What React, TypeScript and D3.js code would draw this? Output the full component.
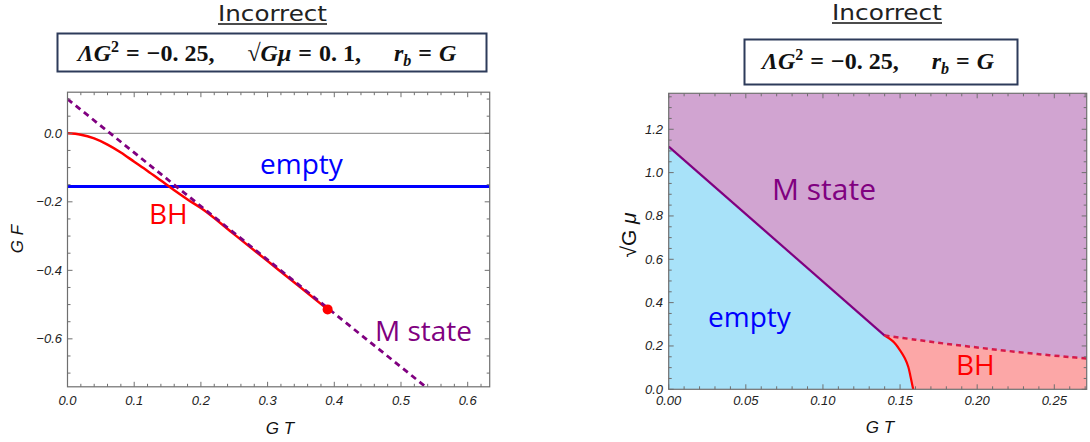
import React from "react";
import * as d3 from "d3";

// ---------- Left panel data ----------
const bhT = [0, 0.02, 0.04, 0.06, 0.08, 0.1, 0.12, 0.14, 0.16, 0.18, 0.2, 0.25, 0.3, 0.35, 0.39];
const bhF = [0, -0.004, -0.015, -0.033, -0.056, -0.083, -0.11, -0.138, -0.166, -0.193, -0.218, -0.295, -0.373, -0.451, -0.514];
const mStateT = [0, 0.537];
const mStateF = [0.1, -0.74];
const emptyF = -0.155;
const bhEnd = [0.39, -0.514];
const leftXTicks = [0, 0.1, 0.2, 0.3, 0.4, 0.5, 0.6];
const leftYTicks = [0, -0.2, -0.4, -0.6];

// ---------- Right panel data ----------
const mLineT = [0, 0.14];
const mLineMu = [1.12, 0.248];
const bhSolidT = [0.14, 0.1456, 0.15, 0.1531, 0.1553, 0.1568, 0.1585];
const bhSolidMu = [0.248, 0.22, 0.18, 0.143, 0.104, 0.058, 0];
const bhDashT = [0.14, 0.16, 0.18, 0.2, 0.22, 0.24, 0.26, 0.271];
const bhDashMu = [0.248, 0.229, 0.21, 0.193, 0.177, 0.162, 0.149, 0.142];
const rightXTicks = [0, 0.05, 0.1, 0.15, 0.2, 0.25];
const rightYTicks = [0, 0.2, 0.4, 0.6, 0.8, 1.0, 1.2];

const LEFT = { x0: 67.5, x1: 489.7, y0: 92.2, y1: 386.8, xd: [0, 0.633], yd: [-0.74, 0.12] };
const RIGHT = { x0: 668.7, x1: 1086.7, y0: 93.3, y1: 389.3, xd: [0, 0.271], yd: [0, 1.366] };

const frameColor = "#6f6f6f";
const tickFont = "Liberation Sans, Arial, sans-serif";
const labelFont = "Open Sans, Noto Sans, sans-serif";
const titleFont = "DejaVu Sans, sans-serif";
const mathFont = "Liberation Serif, DejaVu Serif, serif";

function zip(a: number[], b: number[]): [number, number][] {
  return a.map((v, i) => [v, b[i]]);
}

function Ticks({ x, y, xMajor, xMinor, yMajor, yMinor, box }: any) {
  const els: any[] = [];
  const maj = 5, min = 3;
  xMinor.forEach((t: number, i: number) => {
    const isMaj = xMajor.some((m: number) => Math.abs(m - t) < 1e-9);
    const L = isMaj ? maj : min;
    const px = x(t);
    els.push(<line key={"xb" + i} x1={px} x2={px} y1={box.y1} y2={box.y1 - L} stroke={frameColor} strokeWidth={1} />);
    els.push(<line key={"xt" + i} x1={px} x2={px} y1={box.y0} y2={box.y0 + L} stroke={frameColor} strokeWidth={1} />);
  });
  yMinor.forEach((t: number, i: number) => {
    const isMaj = yMajor.some((m: number) => Math.abs(m - t) < 1e-9);
    const L = isMaj ? maj : min;
    const py = y(t);
    els.push(<line key={"yl" + i} x1={box.x0} x2={box.x0 + L} y1={py} y2={py} stroke={frameColor} strokeWidth={1} />);
    els.push(<line key={"yr" + i} x1={box.x1} x2={box.x1 - L} y1={py} y2={py} stroke={frameColor} strokeWidth={1} />);
  });
  return <g>{els}</g>;
}

function rangeInc(a: number, b: number, s: number) {
  const out: number[] = [];
  const n = Math.round((b - a) / s);
  for (let i = 0; i <= n; i++) out.push(+(a + i * s).toFixed(6));
  return out;
}

export default function App() {
  // Left scales
  const lx = d3.scaleLinear().domain(LEFT.xd).range([LEFT.x0, LEFT.x1]);
  const ly = d3.scaleLinear().domain(LEFT.yd).range([LEFT.y1, LEFT.y0]);
  const lLine = d3.line<[number, number]>().x((d) => lx(d[0])).y((d) => ly(d[1]));
  const bhPath = d3.line<[number, number]>().x((d) => lx(d[0])).y((d) => ly(d[1])).curve(d3.curveMonotoneX)(zip(bhT, bhF)) || "";
  const mPath = lLine(zip(mStateT, mStateF)) || "";

  // Right scales
  const rx = d3.scaleLinear().domain(RIGHT.xd).range([RIGHT.x0, RIGHT.x1]);
  const ry = d3.scaleLinear().domain(RIGHT.yd).range([RIGHT.y1, RIGHT.y0]);
  const rLine = d3.line<[number, number]>().x((d) => rx(d[0])).y((d) => ry(d[1]));
  const rCurve = d3.line<[number, number]>().x((d) => rx(d[0])).y((d) => ry(d[1])).curve(d3.curveCatmullRom);
  const solidPts = zip(bhSolidT, bhSolidMu);
  const dashPts = zip(bhDashT, bhDashMu);
  const solidPath = rCurve(solidPts) || "";
  const solidRevPath = rCurve(solidPts.slice().reverse()) || "";
  const dashPath = rCurve(dashPts) || "";
  const mLinePath = rLine(zip(mLineT, mLineMu)) || "";
  const bluePath =
    `M${rx(0)},${ry(0)}L${rx(mLineT[0])},${ry(mLineMu[0])}` + solidPath.replace(/^M/, "L") + "Z";
  const redPath =
    dashPath + `L${rx(RIGHT.xd[1])},${ry(0)}` + solidRevPath.replace(/^M/, "L") + "Z";

  return (
    <svg width={1090} height={442} style={{ position: "absolute", left: 0, top: 0, background: "#fff" }}>
      <defs>
        <clipPath id="clipL">
          <rect x={LEFT.x0} y={LEFT.y0} width={LEFT.x1 - LEFT.x0} height={LEFT.y1 - LEFT.y0} />
        </clipPath>
        <clipPath id="clipR">
          <rect x={RIGHT.x0} y={RIGHT.y0} width={RIGHT.x1 - RIGHT.x0} height={RIGHT.y1 - RIGHT.y0} />
        </clipPath>
      </defs>

      {/* ---------- Titles ---------- */}
      <text x={218} y={21} textLength={109} lengthAdjust="spacingAndGlyphs" fontFamily={titleFont} fontSize={22} fill="#222">Incorrect</text>
      <line x1={218} x2={327} y1={24} y2={24} stroke="#111" strokeWidth={1.6} />
      <text x={832} y={20} textLength={110} lengthAdjust="spacingAndGlyphs" fontFamily={titleFont} fontSize={22} fill="#222">Incorrect</text>
      <line x1={832} x2={942} y1={23} y2={23} stroke="#111" strokeWidth={1.6} />

      {/* ---------- Parameter boxes ---------- */}
      <rect x={57.5} y={33.5} width={429} height={38} fill="#fff" stroke="#2d3b5a" strokeWidth={2} />
      <text x={267} y={61} textAnchor="middle" fontFamily={mathFont} fontWeight="bold" fontSize={24} fill="#111">
        <tspan fontStyle="italic">ΛG</tspan>
        <tspan dy={-9} fontSize={16}>2</tspan>
        <tspan dy={9} dx={7}>=</tspan>
        <tspan dx={7}>{"−0. 25,"}</tspan>
        <tspan dx={33}>√</tspan>
        <tspan fontStyle="italic">Gμ</tspan>
        <tspan dx={7}>=</tspan>
        <tspan dx={7}>{"0. 1,"}</tspan>
        <tspan dx={33} fontStyle="italic">r</tspan>
        <tspan dy={5} fontSize={16} fontStyle="italic">b</tspan>
        <tspan dy={-5} dx={7}>=</tspan>
        <tspan dx={7} fontStyle="italic">G</tspan>
      </text>

      <rect x={744.5} y={39.5} width={273} height={45} fill="#fff" stroke="#2d3b5a" strokeWidth={2} />
      <text x={878} y={69} textAnchor="middle" fontFamily={mathFont} fontWeight="bold" fontSize={24} fill="#111">
        <tspan fontStyle="italic">ΛG</tspan>
        <tspan dy={-9} fontSize={16}>2</tspan>
        <tspan dy={9} dx={7}>=</tspan>
        <tspan dx={7}>{"−0. 25,"}</tspan>
        <tspan dx={33} fontStyle="italic">r</tspan>
        <tspan dy={5} fontSize={16} fontStyle="italic">b</tspan>
        <tspan dy={-5} dx={7}>=</tspan>
        <tspan dx={7} fontStyle="italic">G</tspan>
      </text>

      {/* ---------- Left panel ---------- */}
      <g clipPath="url(#clipL)">
        <line x1={lx(LEFT.xd[0])} x2={lx(LEFT.xd[1])} y1={ly(0)} y2={ly(0)} stroke="#9a9a9a" strokeWidth={1.2} />
        <line x1={lx(LEFT.xd[0])} x2={lx(LEFT.xd[1])} y1={ly(emptyF)} y2={ly(emptyF)} stroke="#0000ff" strokeWidth={3} />
        <path d={bhPath} fill="none" stroke="#ff0000" strokeWidth={2.5} />
        <path d={mPath} fill="none" stroke="#800080" strokeWidth={2.8} strokeDasharray="6,4.5" />
        <circle cx={lx(bhEnd[0])} cy={ly(bhEnd[1])} r={5} fill="#ff0000" />
      </g>
      <rect x={LEFT.x0} y={LEFT.y0} width={LEFT.x1 - LEFT.x0} height={LEFT.y1 - LEFT.y0} fill="none" stroke={frameColor} strokeWidth={1.2} />
      <Ticks x={lx} y={ly} xMajor={leftXTicks} xMinor={rangeInc(0, 0.62, 0.02)} yMajor={leftYTicks} yMinor={rangeInc(-0.7, 0.1, 0.05)} box={LEFT} />
      {leftXTicks.map((t) => (
        <text key={"lxt" + t} x={lx(t)} y={405} textAnchor="middle" fontFamily={tickFont} fontStyle="italic" fontSize={13} fill="#222">
          {t.toFixed(1)}
        </text>
      ))}
      {leftYTicks.map((t) => (
        <text key={"lyt" + t} x={62} y={ly(t) + 4.5} textAnchor="end" fontFamily={tickFont} fontStyle="italic" fontSize={13} fill="#222">
          {t === 0 ? "0.0" : "−" + Math.abs(t).toFixed(1)}
        </text>
      ))}
      <text x={280} y={434} textAnchor="middle" fontFamily={tickFont} fontStyle="italic" fontSize={17} fill="#111">G T</text>
      <text transform="translate(23,239) rotate(-90)" textAnchor="middle" fontFamily={tickFont} fontStyle="italic" fontSize={17} fill="#111">G F</text>
      <text x={260} y={174} fontFamily={labelFont} fontSize={28} fill="#0000ff">empty</text>
      <text x={149} y={224} fontFamily={labelFont} fontSize={28} fill="#ff0000">BH</text>
      <text x={375} y={341} fontFamily={labelFont} fontSize={28} fill="#800080">M state</text>

      {/* ---------- Right panel ---------- */}
      <g clipPath="url(#clipR)">
        <rect x={RIGHT.x0} y={RIGHT.y0} width={RIGHT.x1 - RIGHT.x0} height={RIGHT.y1 - RIGHT.y0} fill="#d1a4d1" />
        <path d={bluePath} fill="#a8e2f9" />
        <path d={redPath} fill="#fca7a7" />
        <path d={mLinePath} fill="none" stroke="#800080" strokeWidth={2.2} />
        <path d={solidPath} fill="none" stroke="#ff0000" strokeWidth={2.2} />
        <path d={dashPath} fill="none" stroke="#d61a4a" strokeWidth={2.5} strokeDasharray="5,4" />
      </g>
      <rect x={RIGHT.x0} y={RIGHT.y0} width={RIGHT.x1 - RIGHT.x0} height={RIGHT.y1 - RIGHT.y0} fill="none" stroke={frameColor} strokeWidth={1.2} />
      <Ticks x={rx} y={ry} xMajor={rightXTicks} xMinor={rangeInc(0, 0.27, 0.01)} yMajor={rightYTicks} yMinor={rangeInc(0, 1.35, 0.05)} box={RIGHT} />
      {rightXTicks.map((t) => (
        <text key={"rxt" + t} x={rx(t)} y={405} textAnchor="middle" fontFamily={tickFont} fontStyle="italic" fontSize={13} fill="#222">
          {t.toFixed(2)}
        </text>
      ))}
      {rightYTicks.map((t) => (
        <text key={"ryt" + t} x={663} y={ry(t) + 4.5} textAnchor="end" fontFamily={tickFont} fontStyle="italic" fontSize={13} fill="#222">
          {t.toFixed(1)}
        </text>
      ))}
      <text x={880} y={433} textAnchor="middle" fontFamily={tickFont} fontStyle="italic" fontSize={17} fill="#111">G T</text>
      <g transform="translate(636,235) rotate(-90)">
        <text x={0} y={0} textAnchor="middle" fontFamily={tickFont} fontSize={21} fill="#111">
          <tspan>√</tspan>
          <tspan>G</tspan>
          <tspan fontStyle="italic">{" μ"}</tspan>
        </text>
      </g>
      <text x={708} y={327} fontFamily={labelFont} fontSize={28} fill="#0000ff">empty</text>
      <text x={956} y={375} fontFamily={labelFont} fontSize={28} fill="#ff0000">BH</text>
      <text x={772} y={200} fontFamily={labelFont} fontSize={30} fill="#800080">M state</text>
    </svg>
  );
}
